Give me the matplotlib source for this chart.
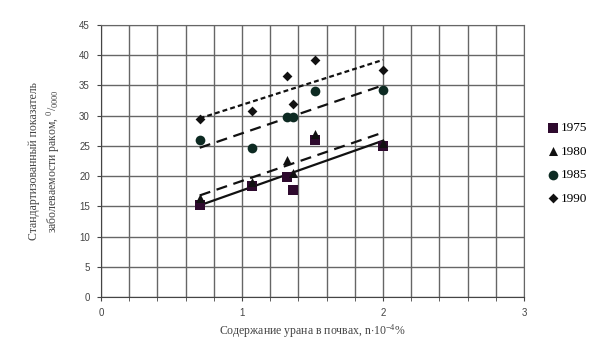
import matplotlib
matplotlib.use("Agg")
import matplotlib.pyplot as plt
from matplotlib.ticker import MultipleLocator
import numpy as np

plt.rcParams["mathtext.fontset"] = "custom"
plt.rcParams["mathtext.rm"] = "Liberation Serif"
plt.rcParams["mathtext.it"] = "Liberation Serif:italic"

# Uranium content in soil (n·10^-4 %) for the sampled districts
uranium = [0.70, 1.07, 1.32, 1.36, 1.52, 2.00]

# Standardised cancer incidence per survey year
years = ["1975", "1980", "1985", "1990"]
rate_1975 = [15.2, 18.3, 19.9, 17.7, 26.0, 24.9]
rate_1980 = [16.3, 19.0, 22.7, 20.5, 27.0, 25.5]
rate_1985 = [25.9, 24.6, 29.7, 29.7, 34.0, 34.2]
rate_1990 = [29.4, 30.7, 36.6, 31.9, 39.2, 37.6]

x_ticks = [0, 1, 2, 3]
y_ticks = list(range(0, 50, 5))

series = [
    (rate_1975, "s", "#2e0a2e", 6.5, "-"),
    (rate_1980, "^", "#111111", 6.5, (0, (5, 3))),
    (rate_1985, "o", "#0d2a22", 7.0, (0, (5, 3))),
    (rate_1990, "D", "#111111", 5.0, (0, (2.2, 1.4))),
]

fig = plt.figure(figsize=(5.89, 3.47), dpi=100)
ax = fig.add_axes([101 / 589, 1 - 297 / 347, 423 / 589, 272 / 347])

xs = np.array(uranium)
handles = []
for vals, marker, color, ms, ls in series:
    ys = np.array(vals)
    k, b = np.polyfit(xs, ys, 1)
    xl = np.array([xs.min(), xs.max()])
    ax.plot(xl, k * xl + b, color="#111111", lw=1.6, linestyle=ls, zorder=3)
    h = ax.scatter(xs, ys, marker=marker, s=ms ** 2, color=color, zorder=4,
                   linewidths=0)
    handles.append(h)

ax.set_xlim(0, 3)
ax.set_ylim(0, 45)
ax.set_xticks(x_ticks)
ax.set_yticks(y_ticks)
ax.xaxis.set_minor_locator(MultipleLocator(0.2))
ax.grid(True, which="both", axis="x", color="#666666", lw=1.0)
ax.grid(True, which="major", axis="y", color="#666666", lw=1.0)
ax.set_axisbelow(True)
for side in ["top", "right"]:
    ax.spines[side].set_color("#666666")
for side in ["left", "bottom"]:
    ax.spines[side].set_color("#444444")
ax.tick_params(axis="both", which="both", direction="out", length=3,
               color="#444444", labelsize=7, labelcolor="#444444", pad=5)
for lab in ax.get_xticklabels() + ax.get_yticklabels():
    lab.set_family("Liberation Sans")

ax.set_xlabel(r"Содержание урана в почвах, n$\cdot$10$^{-4}$%",
              family="Liberation Serif", fontsize=8.5, color="#444444",
              labelpad=3)
ax.set_ylabel("Стандартизованный показатель\n"
              r"заболеваемости раком, $^{0}/_{0000}$",
              family="Liberation Serif", fontsize=8.5, color="#444444",
              labelpad=12, linespacing=1.4)

fig.legend(handles, years, loc="upper left",
           bbox_to_anchor=(536 / 589, 1 - 113 / 347),
           frameon=False, handletextpad=0.0, handlelength=1.2,
           labelspacing=0.85, borderpad=0.2,
           prop={"family": "Liberation Serif", "size": 9.5})

fig.savefig("out.png", dpi=100)
